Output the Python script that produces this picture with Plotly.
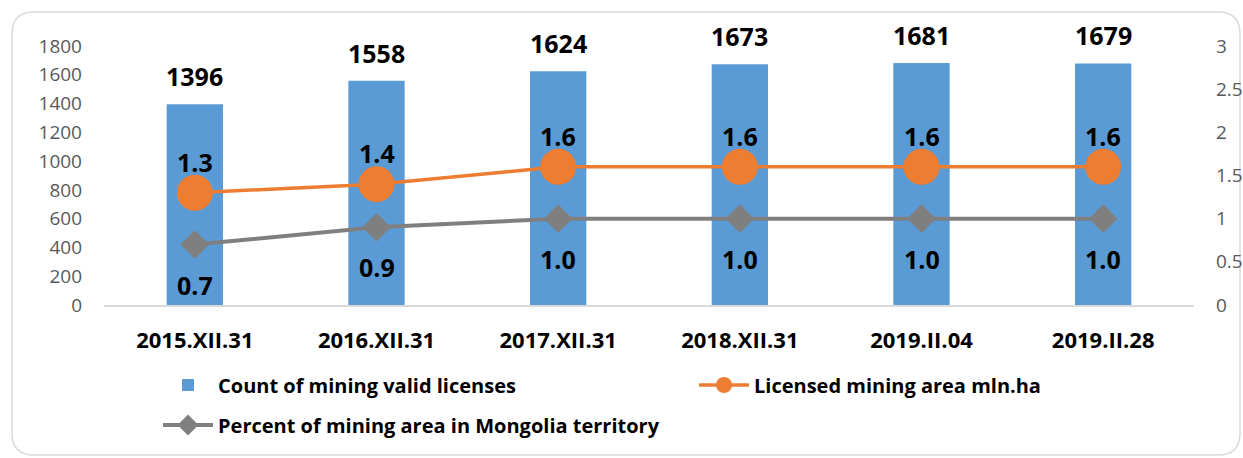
import plotly.graph_objects as go

categories = ["2015.XII.31", "2016.XII.31", "2017.XII.31", "2018.XII.31", "2019.II.04", "2019.II.28"]
licenses = [1396, 1558, 1624, 1673, 1681, 1679]
area_mln_ha = [1.3, 1.4, 1.6, 1.6, 1.6, 1.6]
percent_territory = [0.7, 0.9, 1.0, 1.0, 1.0, 1.0]
left_ticks = [0, 200, 400, 600, 800, 1000, 1200, 1400, 1600, 1800]
right_ticks = [0, 0.5, 1, 1.5, 2, 2.5, 3]
right_ticktext = ["0", "0.5", "1", "1.5", "2", "2.5", "3"]

FONT = "Open Sans"
W, H = 1243, 458
ML, MR, MT, MB = 104, 49, 46, 153
PW, PH = W - ML - MR, H - MT - MB

fig = go.Figure()
fig.add_trace(go.Bar(
    x=categories, y=licenses, name="Count of mining valid licenses",
    marker=dict(color="#5B9BD5", line=dict(width=0)), width=0.31,
    legend="legend",
))
fig.add_trace(go.Scatter(
    x=categories, y=area_mln_ha, yaxis="y2", mode="lines+markers",
    name="Licensed mining area mln.ha",
    line=dict(color="#ED7D31", width=3.5),
    marker=dict(symbol="circle", size=36, color="#ED7D31"),
    legend="legend2",
))
fig.add_trace(go.Scatter(
    x=categories, y=percent_territory, yaxis="y2", mode="lines+markers",
    name="Percent of mining area in Mongolia territory",
    line=dict(color="#7F7F7F", width=4),
    marker=dict(symbol="diamond", size=22, color="#7F7F7F"),
    legend="legend3",
))

ann = []
lab_font = dict(family=FONT, size=25, color="black", weight="bold")
for c, v in zip(categories, licenses):
    ann.append(dict(x=c, y=v, xref="x", yref="y", text=str(v), showarrow=False,
                    yshift=28, font=lab_font))
for c, v in zip(categories, area_mln_ha):
    ann.append(dict(x=c, y=v, xref="x", yref="y2", text=f"{v:.1f}", showarrow=False,
                    yshift=31, font=lab_font))
for c, v in zip(categories, percent_territory):
    ann.append(dict(x=c, y=v, xref="x", yref="y2", text=f"{v:.1f}", showarrow=False,
                    yshift=-40, font=lab_font))


def px(x):
    return (x - ML) / PW


def py(y):
    return (H - MB - y) / PH


x0, x1, y0, y1, r = 12, 1240, 12, 455, 22
path = (f"M {px(x0 + r)} {py(y0)} L {px(x1 - r)} {py(y0)} "
        f"Q {px(x1)} {py(y0)} {px(x1)} {py(y0 + r)} "
        f"L {px(x1)} {py(y1 - r)} Q {px(x1)} {py(y1)} {px(x1 - r)} {py(y1)} "
        f"L {px(x0 + r)} {py(y1)} Q {px(x0)} {py(y1)} {px(x0)} {py(y1 - r)} "
        f"L {px(x0)} {py(y0 + r)} Q {px(x0)} {py(y0)} {px(x0 + r)} {py(y0)} Z")

leg_font = dict(family=FONT, size=20, color="black", weight="bold")


def leg(xp, yp):
    return dict(orientation="h", x=px(xp), y=py(yp), xanchor="left", yanchor="middle",
                bgcolor="rgba(0,0,0,0)", font=leg_font, itemwidth=50)


fig.update_layout(
    width=W, height=H,
    margin=dict(l=ML, r=MR, t=MT, b=MB, autoexpand=False),
    paper_bgcolor="white", plot_bgcolor="white",
    font=dict(family=FONT, color="#595959"),
    xaxis=dict(
        type="category", showgrid=False, showline=True, linecolor="#D9D9D9", linewidth=1.5,
        ticks="", tickfont=dict(family=FONT, size=22, color="black", weight="bold"),
        ticklabelstandoff=15, automargin=False,
    ),
    yaxis=dict(
        range=[0, 1800], tickvals=left_ticks, showgrid=False, zeroline=False,
        showline=False, tickfont=dict(family=FONT, size=19, color="#595959"),
        ticklabelstandoff=21, automargin=False,
    ),
    yaxis2=dict(
        range=[0, 3], tickvals=right_ticks, ticktext=right_ticktext, overlaying="y",
        side="right", showgrid=False, zeroline=False, showline=False,
        tickfont=dict(family=FONT, size=19, color="#595959"), ticklabelstandoff=21,
        automargin=False,
    ),
    showlegend=True,
    legend=leg(158, 385),
    legend2=leg(694, 385),
    legend3=leg(158, 425),
    annotations=ann,
    shapes=[dict(type="path", path=path, xref="paper", yref="paper",
                 line=dict(color="#D9D9D9", width=1.5), layer="below")],
)

fig.write_html("out.html", config={"displayModeBar": False},
               post_script="document.body.style.margin='0';")
